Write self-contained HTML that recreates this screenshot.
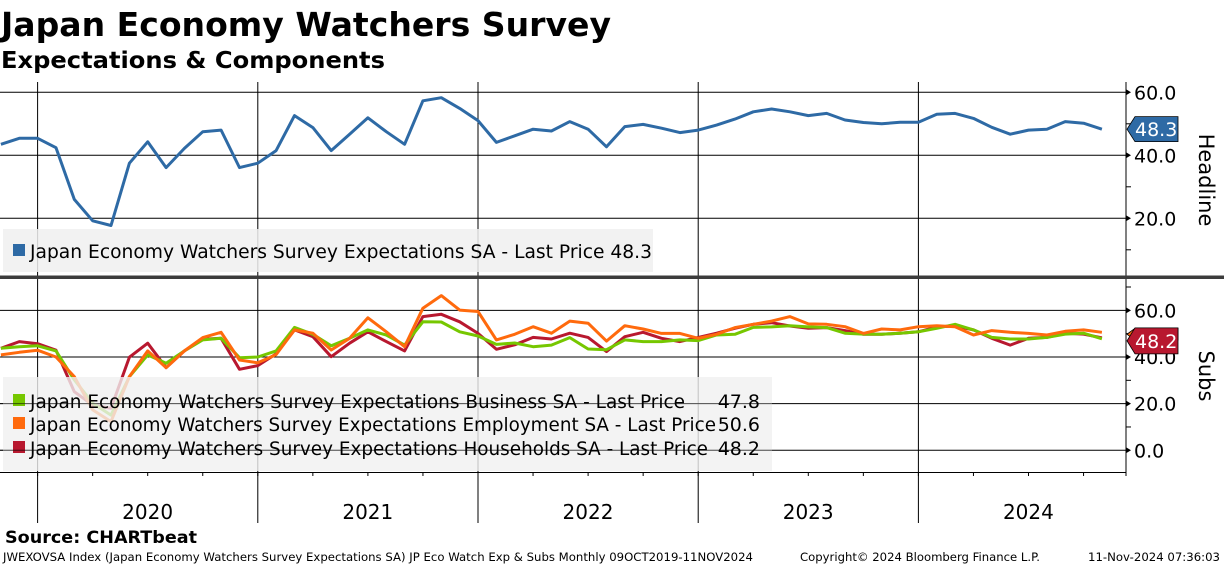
<!DOCTYPE html>
<html><head><meta charset="utf-8">
<style>
html,body{margin:0;padding:0;background:#fff;}
svg{display:block;font-family:"DejaVu Sans","Liberation Sans",sans-serif;}
</style></head>
<body>
<svg id="chart" width="1224" height="566" viewBox="0 0 1224 566" xmlns="http://www.w3.org/2000/svg">
<text x="1" y="36" font-size="33" font-weight="bold" textLength="610" lengthAdjust="spacingAndGlyphs">Japan Economy Watchers Survey</text>
<text x="1" y="68" font-size="23" font-weight="bold" textLength="384" lengthAdjust="spacingAndGlyphs">Expectations &amp; Components</text>
<g id="grid"></g>
<g id="series"></g>
<g id="legends"></g>
<g id="axes"></g>
<text x="5" y="543" font-size="17" font-weight="bold" textLength="192" lengthAdjust="spacingAndGlyphs">Source: CHARTbeat</text>
<text x="3" y="561" font-size="11.5" textLength="750" lengthAdjust="spacingAndGlyphs">JWEXOVSA Index (Japan Economy Watchers Survey Expectations SA) JP Eco Watch Exp &amp; Subs  Monthly 09OCT2019-11NOV2024</text>
<text x="800" y="561" font-size="11.5" textLength="240" lengthAdjust="spacingAndGlyphs">Copyright© 2024 Bloomberg Finance L.P.</text>
<text x="1088" y="561" font-size="11.5" textLength="132" lengthAdjust="spacingAndGlyphs">11-Nov-2024 07:36:03</text>
</svg>
<script>
// Data: monthly Nov 2019 .. Nov 2024
const years = ["2020","2021","2022","2023","2024"];
const headline = [43.5,45.4,
45.4,42.4,26.0,19.2,17.7,37.5,44.3,36.1,42.2,47.5,48.0,36.1,
37.5,41.5,52.6,48.8,41.5,46.7,51.9,47.5,43.5,57.3,58.3,54.9,
51.0,44.1,46.2,48.3,47.7,50.7,48.3,42.7,49.1,49.8,48.6,47.2,
48.0,49.6,51.5,53.8,54.7,53.8,52.6,53.3,51.2,50.4,50.0,50.5,
50.5,53.0,53.3,51.7,48.9,46.7,48.0,48.3,50.7,50.2,48.3];
const business = [43.7,44.4,
44.8,42.6,30.2,20.2,15.1,31.6,40.9,37.3,42.6,47.3,48.0,39.7,
40.0,42.6,52.7,49.7,44.8,48.0,51.6,49.4,45.1,55.1,55.0,50.8,
49.0,45.4,46.0,44.4,45.1,48.3,43.4,43.1,47.3,46.6,46.6,47.3,
47.0,49.4,49.7,52.7,52.9,53.4,52.9,52.6,50.2,49.8,49.7,50.2,
50.8,52.3,54.0,51.6,48.4,47.7,47.7,48.4,49.8,50.2,47.8];
const employment = [40.9,42.0,
42.9,40.0,31.6,17.3,12.3,31.6,42.6,35.4,42.6,48.3,50.6,38.7,
37.5,41.0,51.6,50.2,43.0,48.0,56.8,50.8,44.4,60.9,66.3,60.1,
59.5,47.3,49.7,53.0,50.2,55.4,54.5,46.8,53.4,52.0,50.1,50.1,
48.0,49.7,52.6,54.0,55.4,57.3,54.2,54.0,53.0,50.1,52.0,51.6,
53.0,53.4,53.0,49.4,51.3,50.6,50.1,49.4,51.0,51.6,50.6];
const households = [43.7,46.6,
45.7,42.9,25.1,19.4,18.0,39.9,45.9,35.4,42.6,47.6,48.0,34.7,
36.3,41.3,51.6,48.7,40.1,45.9,50.8,46.6,42.6,57.3,58.3,55.1,
50.1,43.3,45.2,48.4,47.7,50.2,48.4,42.3,48.7,50.6,48.0,46.6,
48.4,50.2,52.3,54.0,54.7,53.3,52.3,52.6,51.3,49.7,49.7,50.2,
50.8,52.9,53.3,51.6,48.0,45.1,48.0,48.4,50.2,49.8,48.2];
const topTicks = [60,40,20];
const topMinor = [50,30,10];
const botTicks = [60,40,20,0];
const botMinor = [70,50,30,10];

const NS="http://www.w3.org/2000/svg";
const AX=1126;
function xi(i){return 0.9+i*18.35;}
function yTop(v){return 92.3+(60-v)*3.15;}
function yBot(v){return 450.3-v*2.333;}
function mk(tag,attrs,parent,text){const e=document.createElementNS(NS,tag);for(const k in attrs)e.setAttribute(k,attrs[k]);if(text!==undefined)e.textContent=text;parent.appendChild(e);return e;}
const grid=document.getElementById('grid'),ser=document.getElementById('series'),leg=document.getElementById('legends'),axes=document.getElementById('axes');

years.forEach((y,k)=>{
  const x=xi(2+12*k);
  let l=mk('line',{x1:x,x2:x,y1:82,y2:523,stroke:'#000','stroke-width':1},grid);
  
  
  let t=mk('text',{x:x+110,y:519,'font-size':20,'text-anchor':'middle'},axes,y);
  
  
});
for(let i=2;i<61;i+=3){const x=xi(i);mk('line',{x1:x,x2:x,y1:472,y2:476,stroke:'#000','stroke-width':1},grid);}
mk('line',{x1:0,x2:AX,y1:472.5,y2:472.5,stroke:'#000','stroke-width':1},grid);

topTicks.forEach(v=>{
  const y=yTop(v);
  let l=mk('line',{x1:0,x2:AX,y1:y,y2:y,stroke:'#000','stroke-width':1},grid);
  
  
  mk('path',{d:`M${AX} ${y-3}L${AX+5} ${y}L${AX} ${y+3}Z`,fill:'#000'},axes);
  let t=mk('text',{x:AX+8,y:y+7,'font-size':19},axes,v.toFixed(1));
  
  
});
topMinor.forEach(v=>{const y=yTop(v);mk('line',{x1:AX,x2:AX+5,y1:y,y2:y,stroke:'#000'},axes);});
botTicks.forEach(v=>{
  const y=yBot(v);
  let l=mk('line',{x1:0,x2:AX,y1:y,y2:y,stroke:'#000','stroke-width':1},grid);
  
  
  mk('path',{d:`M${AX} ${y-3}L${AX+5} ${y}L${AX} ${y+3}Z`,fill:'#000'},axes);
  let t=mk('text',{x:AX+8,y:y+7,'font-size':19},axes,v.toFixed(1));
  
  
});
botMinor.forEach(v=>{const y=yBot(v);mk('line',{x1:AX,x2:AX+5,y1:y,y2:y,stroke:'#000'},axes);});
mk('line',{x1:AX,x2:AX,y1:82,y2:476,stroke:'#000'},axes);
let sep=mk('rect',{x:0,y:275.5,width:1224,height:3.5,fill:'#3c3c3c'},axes);



function line(data,yf,color,name){
  const d=data.map((v,i)=>(i?'L':'M')+xi(i).toFixed(1)+' '+yf(v).toFixed(1)).join('');
  const p=mk('path',{d:d,fill:'none',stroke:color,'stroke-width':3,'stroke-linejoin':'round'},ser);
  
  
}
line(headline,yTop,'#2e6aa5','headline-line');
line(households,yBot,'#b8182f','households-line');
line(business,yBot,'#76c700','business-line');
line(employment,yBot,'#ff6a0d','employment-line');

let lb1=mk('rect',{x:3,y:229,width:650,height:43,fill:'#f0f0f0','fill-opacity':0.85},leg);


mk('rect',{x:13,y:244,width:12,height:12,fill:'#2e6aa5'},leg);
let lt=mk('text',{x:30,y:258,'font-size':19,textLength:622,lengthAdjust:'spacingAndGlyphs'},leg,'Japan Economy Watchers Survey Expectations SA - Last Price 48.3');



let lb2=mk('rect',{x:3,y:377,width:769,height:94,fill:'#f0f0f0','fill-opacity':0.8},leg);


const legItems=[['#76c700','Japan Economy Watchers Survey Expectations Business SA - Last Price','47.8',401,655,'business'],
['#ff6a0d','Japan Economy Watchers Survey Expectations Employment SA - Last Price','50.6',424,686,'employment'],
['#b8182f','Japan Economy Watchers Survey Expectations Households SA - Last Price','48.2',448,678,'households']];
legItems.forEach(it=>{
  mk('rect',{x:13,y:it[3]-7,width:12,height:12,fill:it[0]},leg);
  let t=mk('text',{x:30,y:it[3]+7,'font-size':19,textLength:it[4],lengthAdjust:'spacingAndGlyphs'},leg,it[1]);
  
  
  let v=mk('text',{x:760,y:it[3]+7,'font-size':19,'text-anchor':'end'},leg,it[2]);
  
  
});
botTicks.forEach(v=>{if(v<=20){const y=yBot(v);mk('line',{x1:0,x2:772,y1:y,y2:y,stroke:'#000','stroke-opacity':0.6},leg);}});

function tag(y,color,txt,name,h){
  const g=mk('g',{},axes);
  
  
  mk('path',{d:`M${AX+1} ${y}L${AX+9} ${y-h/2}H1178V${y+h/2}H${AX+9}Z`,fill:color,stroke:'#000','stroke-width':0.8},g);
  if(txt)mk('text',{x:1135,y:y+7,'font-size':19,fill:'#fff'},g,txt);
}
tag(yTop(headline[60]),'#2e6aa5','48.3','headline-last-value-tag',25);
tag(yBot(employment[60])+2,'#ff6a0d','','employment-last-value-tag',12);
tag(yBot(households[60])+3,'#b8182f','48.2','households-last-value-tag',26);

let a1=mk('text',{transform:'translate(1199,180) rotate(90)','font-size':21,'text-anchor':'middle'},axes,'Headline');


let a2=mk('text',{transform:'translate(1199,376) rotate(90)','font-size':21,'text-anchor':'middle'},axes,'Subs');


</script>
</body></html>
